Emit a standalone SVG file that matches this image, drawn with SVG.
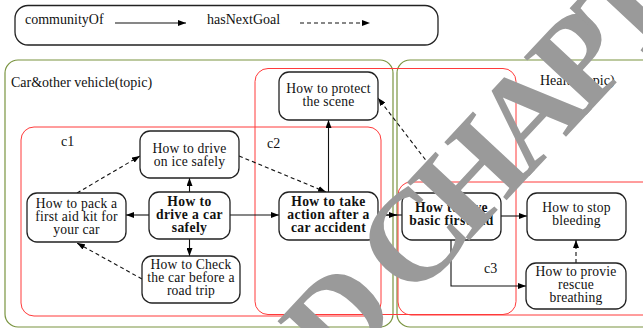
<svg xmlns="http://www.w3.org/2000/svg" width="643" height="328" viewBox="0 0 643 328">
  <defs>
    <marker id="arrow" viewBox="0 0 8 6" refX="8" refY="3" markerWidth="8" markerHeight="6" markerUnits="userSpaceOnUse" orient="auto">
      <path d="M0,0 L8,3 L0,6 z" fill="#000"/>
    </marker>
    <style>
      .lbl { font-family: "Liberation Serif", "Times New Roman", serif; font-size: 14px; fill: #111; }
      .node rect { fill: #fff; stroke: #222; stroke-width: 1.3; }
      .node text { font-family: "Liberation Serif", "Times New Roman", serif; font-size: 13.6px; letter-spacing: 0.2px; fill: #111; text-anchor: middle; }
      .node.key text { font-weight: bold; letter-spacing: 0.4px; }
      .topic { fill: none; stroke: #7a9440; stroke-width: 1.2; }
      .comm { fill: none; stroke: #ff3a3a; stroke-width: 1; }
      .solid { fill: none; stroke: #111; stroke-width: 1.1; marker-end: url(#arrow); }
      .dash { fill: none; stroke: #111; stroke-width: 1.1; stroke-dasharray: 4 3; marker-end: url(#arrow); }
      .mark { font-family: "Liberation Serif", "Times New Roman", serif; font-weight: bold; font-size: 130px; letter-spacing: -12px; fill: #9a9a9a; }
    </style>
  </defs>

  <rect width="643" height="328" fill="#fff"/>

  <!-- legend -->
  <g id="legend">
    <rect x="15" y="5.5" width="423" height="39.5" rx="13" fill="none" stroke="#222" stroke-width="1.3"/>
    <text class="lbl" x="25" y="24">communityOf</text>
    <line class="solid" x1="115" y1="23" x2="186" y2="23"/>
    <text class="lbl" x="207" y="24">hasNextGoal</text>
    <line class="dash" x1="300" y1="23" x2="370" y2="23"/>
  </g>

  <!-- topics -->
  <g id="topic-car">
    <rect class="topic" x="5" y="60" width="388" height="267" rx="13"/>
    <text class="lbl" x="11" y="87">Car&amp;other vehicle(topic)</text>
  </g>
  <g id="topic-health">
    <rect class="topic" x="397" y="60" width="270" height="267" rx="13"/>
    <text class="lbl" x="540" y="85">Health(topic)</text>
  </g>

  <!-- communities -->
  <g id="c1">
    <rect class="comm" x="21" y="127" width="360" height="189" rx="13"/>
    <text class="lbl" x="61" y="146">c1</text>
  </g>
  <g id="c2">
    <rect class="comm" x="255" y="68.5" width="261" height="246" rx="13"/>
    <text class="lbl" x="267" y="148">c2</text>
  </g>
  <g id="c3">
    <rect class="comm" x="398" y="182" width="260" height="133" rx="13" stroke="#ff0000" stroke-width="1.3"/>
    <text class="lbl" x="484" y="273">c3</text>
  </g>

  <!-- connectors -->
  <g id="edges">
    <line class="solid" x1="189.5" y1="192" x2="189.5" y2="178"/>
    <line class="solid" x1="149" y1="215" x2="126" y2="215"/>
    <line class="solid" x1="189.5" y1="239" x2="189.5" y2="256"/>
    <line class="dash" x1="142" y1="279" x2="77" y2="243"/>
    <line class="dash" x1="77" y1="193" x2="140" y2="156"/>
    <line class="dash" x1="239" y1="156" x2="326" y2="192"/>
    <line class="solid" x1="230" y1="215" x2="279" y2="215"/>
    <line class="solid" x1="328.5" y1="192" x2="328.5" y2="120"/>
    <line x1="378" y1="215" x2="402" y2="215" stroke="#111" stroke-width="1.1"/>
    <line class="solid" x1="378" y1="215" x2="397" y2="215"/>
    <line class="dash" x1="451" y1="193" x2="378" y2="98"/>
    <line class="solid" x1="501" y1="216" x2="527" y2="216"/>
    <polyline class="solid" points="451,240 451,286 526,286"/>
    <line class="dash" x1="576" y1="263" x2="576" y2="240"/>
  </g>

  <!-- nodes -->
  <g id="drive-ice" class="node">
    <rect x="140" y="131" width="99" height="47" rx="10"/>
    <text x="189.5" y="153">How to drive</text>
    <text x="189.5" y="166">on ice safely</text>
  </g>
  <g id="pack-kit" class="node">
    <rect x="27" y="193" width="99" height="49" rx="10"/>
    <text x="76.5" y="208">How to pack a</text>
    <text x="76.5" y="221">first aid kit for</text>
    <text x="76.5" y="234">your car</text>
  </g>
  <g id="drive-safe" class="node key">
    <rect x="149" y="192" width="81" height="47" rx="10"/>
    <text x="189.5" y="206">How to</text>
    <text x="189.5" y="219">drive a car</text>
    <text x="189.5" y="232">safely</text>
  </g>
  <g id="check-car" class="node">
    <rect x="142" y="256" width="98" height="47" rx="10"/>
    <text x="191" y="269">How to Check</text>
    <text x="191" y="282">the car before a</text>
    <text x="191" y="295">road trip</text>
  </g>
  <g id="protect-scene" class="node">
    <rect x="279" y="72" width="99" height="48" rx="10"/>
    <text x="328.5" y="93">How to protect</text>
    <text x="328.5" y="106">the scene</text>
  </g>
  <g id="take-action" class="node key">
    <rect x="279" y="192" width="99" height="48" rx="10"/>
    <text x="328.5" y="206">How to take</text>
    <text x="328.5" y="219">action after a</text>
    <text x="328.5" y="232">car accident</text>
  </g>
  <g id="first-aid" class="node key">
    <rect x="402" y="193" width="99" height="47" rx="10"/>
    <text x="451.5" y="212">How to give</text>
    <text x="451.5" y="225">basic first aid</text>
  </g>
  <g id="stop-bleeding" class="node">
    <rect x="527" y="193" width="99" height="47" rx="10"/>
    <text x="576.5" y="212">How to stop</text>
    <text x="576.5" y="225">bleeding</text>
  </g>
  <g id="rescue-breathing" class="node">
    <rect x="526" y="263" width="100" height="46" rx="10"/>
    <text x="576" y="276">How to provie</text>
    <text x="576" y="289">rescue</text>
    <text x="576" y="302">breathing</text>
  </g>

  <!-- diagonal stamp lettering across the page -->
  <g id="stamp" transform="translate(412,302) rotate(-47)">
    <text class="mark" x="-108" y="0">D</text>
    <text class="mark" x="0" y="0">CHAPTER</text>
  </g>
</svg>
